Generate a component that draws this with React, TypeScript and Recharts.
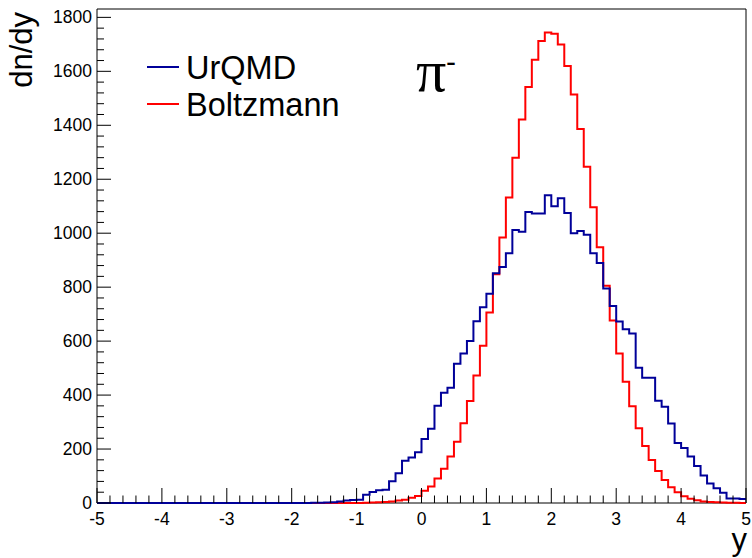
import React from 'react';
import { LineChart, Line, XAxis, YAxis, ReferenceArea } from 'recharts';

// histogram binning: 100 bins of width 0.1 on [-5, 5]
const binLow = -5;
const binWidth = 0.1;

// dn/dy per bin (bin lower edges -5.0 ... 4.9)
const urqmd = [
  0, 0, 0, 0, 0, 0, 0, 0, 0, 0,
  0, 0, 0, 0, 0, 0, 0, 0, 0, 0,
  0, 0, 0, 0, 0, 0, 0, 0, 0, 0,
  0, 0, 0, 1, 1, 2, 3, 6, 9, 11,
  12, 31, 41, 47, 49, 81, 110, 157, 169, 188,
  237, 275, 360, 409, 427, 516, 554, 600, 674, 726,
  776, 852, 875, 926, 1012, 1005, 1079, 1073, 1073, 1141,
  1100, 1130, 1075, 1000, 1008, 994, 926, 890, 795, 730,
  673, 644, 628, 501, 464, 464, 379, 357, 295, 222,
  204, 172, 137, 102, 72, 55, 38, 17, 17, 15,
];

const boltzmann = [
  0, 0, 0, 0, 0, 0, 0, 0, 0, 0,
  0, 0, 0, 0, 0, 0, 0, 0, 0, 0,
  0, 0, 0, 0, 0, 0, 0, 0, 0, 0,
  0, 0, 0, 0, 0, 0, 0, 0, 0, 0,
  0, 1, 2, 3, 4, 6, 9, 12, 19, 26,
  45, 61, 91, 127, 172, 227, 296, 378, 473, 583,
  706, 848, 984, 1132, 1280, 1421, 1542, 1643, 1712, 1744,
  1739, 1699, 1620, 1514, 1386, 1246, 1096, 948, 805, 676,
  554, 449, 359, 277, 211, 159, 119, 85, 58, 40,
  25, 16, 10, 6, 4, 3, 2, 1, 1, 0,
];

const xMajorTicks = [-5, -4, -3, -2, -1, 0, 1, 2, 3, 4, 5];
const yMajorTicks = [0, 200, 400, 600, 800, 1000, 1200, 1400, 1600, 1800];
const minorPerMajor = 5;
const yMax = 1831;

const BLUE = '#000099';
const RED = '#ff0000';
const FONT = '"Liberation Sans", Arial, Helvetica, sans-serif';

// step histogram: one point per lower edge, plus the closing upper edge
const data = urqmd.map((u, i) => ({ x: binLow + i * binWidth, urqmd: u, boltzmann: boltzmann[i] }));
data.push({ x: binLow + urqmd.length * binWidth, urqmd: urqmd[urqmd.length - 1], boltzmann: boltzmann[boltzmann.length - 1] });

function withMinors(majors: number[]) {
  const out: number[] = [];
  for (let i = 0; i < majors.length - 1; i++) {
    const step = (majors[i + 1] - majors[i]) / minorPerMajor;
    for (let k = 0; k < minorPerMajor; k++) out.push(majors[i] + k * step);
  }
  out.push(majors[majors.length - 1]);
  return out;
}

const isMajor = (v: number, majors: number[]) => majors.some((m) => Math.abs(m - v) < 1e-6);

const XTick = (props: any) => {
  const { x, y, payload } = props;
  const major = isMajor(payload.value, xMajorTicks);
  return (
    <g>
      <line x1={x} x2={x} y1={y} y2={y - (major ? 15 : 7.5)} stroke="#000" strokeWidth={1} />
      {major && (
        <text x={x} y={y + 22} textAnchor="middle" fontSize={17.5} fontFamily={FONT} fill="#000">
          {Math.round(payload.value)}
        </text>
      )}
    </g>
  );
};

const YTick = (props: any) => {
  const { x, y, payload } = props;
  const major = isMajor(payload.value, yMajorTicks);
  return (
    <g>
      <line x1={x} x2={x + (major ? 14 : 7)} y1={y} y2={y} stroke="#000" strokeWidth={1} />
      {major && (
        <text x={x - 5} y={y + 6} textAnchor="end" fontSize={17.5} fontFamily={FONT} fill="#000">
          {Math.round(payload.value)}
        </text>
      )}
    </g>
  );
};

export default function App() {
  return (
    <div style={{ position: 'absolute', left: 0, top: 0, width: 752, height: 558, background: '#fff', fontFamily: FONT }}>
      <LineChart width={752} height={558} data={data} margin={{ top: 9, right: 6, bottom: 25, left: 37 }}>
        <XAxis
          type="number"
          dataKey="x"
          domain={[-5, 5]}
          ticks={withMinors(xMajorTicks)}
          interval={0}
          tick={<XTick />}
          tickLine={false}
          tickSize={0}
          tickMargin={0}
          axisLine={false}
          height={30}
        />
        <YAxis
          type="number"
          domain={[0, yMax]}
          ticks={withMinors(yMajorTicks)}
          interval={0}
          tick={<YTick />}
          tickLine={false}
          tickSize={0}
          tickMargin={0}
          axisLine={false}
          width={60}
        />
        <ReferenceArea x1={-5} x2={5} y1={0} y2={yMax} fill="none" stroke="#000" strokeWidth={1} ifOverflow="visible" />
        <Line type="stepAfter" dataKey="boltzmann" stroke={RED} strokeWidth={2} dot={false} activeDot={false} isAnimationActive={false} />
        <Line type="stepAfter" dataKey="urqmd" stroke={BLUE} strokeWidth={2} dot={false} activeDot={false} isAnimationActive={false} />
      </LineChart>

      {/* titles, legend and particle label */}
      <svg width={752} height={558} style={{ position: 'absolute', left: 0, top: 0, pointerEvents: 'none' }}>
        <text transform="translate(32, 12) rotate(-90)" textAnchor="end" fontSize={31} fontFamily={FONT} fill="#000">
          dn/dy
        </text>
        <text x={747} y={550} textAnchor="end" fontSize={31} fontFamily={FONT} fill="#000">
          y
        </text>

        <line x1={147} x2={179} y1={67} y2={67} stroke={BLUE} strokeWidth={2} />
        <text x={186} y={78.5} fontSize={32.5} fontFamily={FONT} fill="#000">UrQMD</text>
        <line x1={147} x2={179} y1={104} y2={104} stroke={RED} strokeWidth={2} />
        <text x={186} y={115.5} fontSize={32.5} fontFamily={FONT} fill="#000">Boltzmann</text>

        <text x={416} y={91} fontSize={60} fontFamily='"Liberation Serif", serif' fill="#000">π</text>
        <text x={446} y={72} fontSize={30} fontFamily={FONT} fill="#000">-</text>
      </svg>
    </div>
  );
}
